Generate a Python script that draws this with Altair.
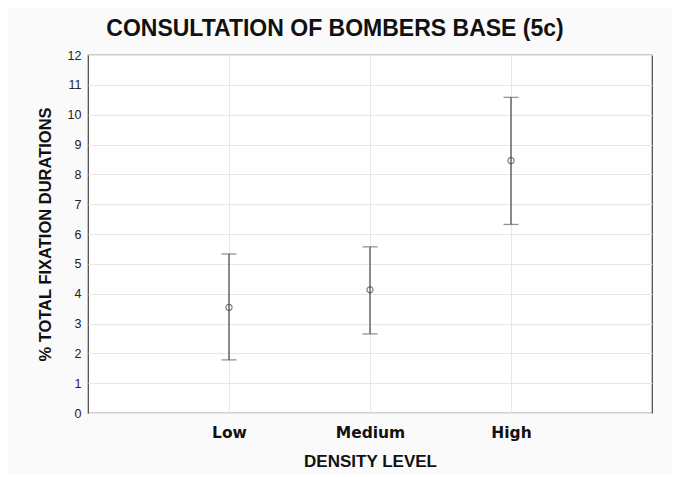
import altair as alt
import pandas as pd

levels = ["Low", "Medium", "High"]
positions = [1, 2, 3]
means = [3.54, 4.13, 8.46]
lower = [1.78, 2.65, 6.32]
upper = [5.33, 5.57, 10.58]
y_ticks = list(range(0, 13))

df = pd.DataFrame({"level": levels, "pos": positions, "mean": means,
                   "lo": lower, "hi": upper})

label_expr = "datum.value == 1 ? 'Low' : datum.value == 2 ? 'Medium' : datum.value == 3 ? 'High' : ''"

x_scale = alt.Scale(domain=[0, 4], nice=False, zero=False)
y_scale = alt.Scale(domain=[0, 12], nice=False)
x_axis = alt.Axis(values=positions, labelExpr=label_expr, title="DENSITY LEVEL",
                  labelFont="DejaVu Sans", labelFontWeight="bold", labelFontSize=15.5,
                  labelColor="#111", labelPadding=12, ticks=False,
                  domain=False,
                  titleFont="Liberation Sans", titleFontWeight="bold",
                  titleFontSize=17, titleColor="#111", titlePadding=13,
                  grid=True, gridColor="#e6e6e6")
y_axis = alt.Axis(values=y_ticks, tickCount=13, title="% TOTAL FIXATION DURATIONS",
                  labelFont="Liberation Sans", labelFontSize=12.5, labelColor="#222",
                  labelPadding=7, ticks=False, domain=False, labelOverlap=False,
                  titleFont="Liberation Sans", titleFontWeight="bold",
                  titleFontSize=16.5, titleColor="#111", titlePadding=14,
                  grid=True, gridColor="#e6e6e6")

def X(f):
    return alt.X(f, scale=x_scale, axis=x_axis)

def Y(f):
    return alt.Y(f, scale=y_scale, axis=y_axis)

base = alt.Chart(df)

bars = base.mark_rule(color="#444", strokeWidth=1.2).encode(
    x=X("pos:Q"), y=Y("lo:Q"), y2="hi:Q")
caps_lo = base.mark_tick(color="#666", thickness=1.3, size=15, orient="horizontal").encode(
    x=X("pos:Q"), y=Y("lo:Q"))
caps_hi = base.mark_tick(color="#666", thickness=1.3, size=15, orient="horizontal").encode(
    x=X("pos:Q"), y=Y("hi:Q"))
pts = base.mark_point(shape="circle", size=38, filled=False, color="#333",
                      strokeWidth=1.1).encode(x=X("pos:Q"), y=Y("mean:Q"))

chart = alt.layer(bars, caps_lo, caps_hi, pts).properties(
    width=564, height=358,
    title=alt.TitleParams("CONSULTATION OF BOMBERS BASE (5c)", font="Liberation Sans",
                          fontSize=23, fontWeight="bold", color="#111",
                          anchor="middle", frame="group", dx=-35, offset=8),
    autosize=alt.AutoSizeParams(type="none"),
    padding={"left": 80, "top": 47, "right": 20, "bottom": 62},
    background="#fafafa",
).configure_view(fill="white", stroke="#444", strokeWidth=1.2)

chart.save("out.html", embed_options={"renderer": "svg", "actions": False})
